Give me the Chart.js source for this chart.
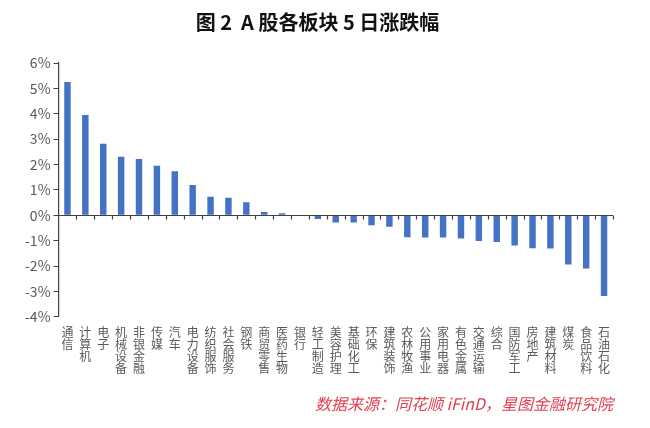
<!DOCTYPE html>
<html>
<head>
<meta charset="utf-8">
<script src="https://cdn.jsdelivr.net/npm/chart.js@4"></script>
<style>
  html, body { margin: 0; padding: 0; background: #fff; }
  #wrap { width: 650px; height: 428px; }
</style>
</head>
<body>
<div id="wrap"><canvas id="barChart"></canvas></div>
<script>
// sectors and 5-day change (%)
const sectors = ['通信', '计算机', '电子', '机械设备', '非银金融', '传媒', '汽车', '电力设备',
  '纺织服饰', '社会服务', '钢铁', '商贸零售', '医药生物', '银行', '轻工制造', '美容护理',
  '基础化工', '环保', '建筑装饰', '农林牧渔', '公用事业', '家用电器', '有色金属', '交通运输',
  '综合', '国防军工', '房地产', '建筑材料', '煤炭', '食品饮料', '石油石化'];
const changes = [5.25, 3.95, 2.82, 2.31, 2.22, 1.95, 1.73, 1.19,
  0.73, 0.69, 0.51, 0.13, 0.08, 0.02, -0.15, -0.28,
  -0.28, -0.39, -0.45, -0.87, -0.88, -0.88, -0.91, -1.01,
  -1.05, -1.19, -1.30, -1.31, -1.94, -2.10, -3.18];
const yTicks = [-4, -3, -2, -1, 0, 1, 2, 3, 4, 5, 6];

const cjk = '"Noto Sans CJK SC", "Noto Sans", sans-serif';

// zero line with small ticks between categories
const zeroAxis = {
  id: 'zeroAxis',
  afterDatasetsDraw(chart) {
    const { ctx, chartArea } = chart;
    const y = Math.round(chart.scales.y.getPixelForValue(0)) + 0.5;
    const n = sectors.length;
    const step = (chartArea.right - chartArea.left) / n;
    ctx.save();
    ctx.strokeStyle = '#404040';
    ctx.lineWidth = 1.2;
    ctx.beginPath();
    ctx.moveTo(chartArea.left, y);
    ctx.lineTo(chartArea.right, y);
    for (let i = 1; i <= n; i++) {
      const x = Math.round(chartArea.left + i * step) + 0.5;
      ctx.moveTo(x, y);
      ctx.lineTo(x, y + 4);
    }
    ctx.stroke();
    ctx.restore();
  }
};

new Chart(document.getElementById('barChart').getContext('2d'), {
  type: 'bar',
  data: {
    labels: sectors.map(s => s.split('')),
    datasets: [
      {
        data: changes,
        backgroundColor: '#4472C4',
        barPercentage: 0.36,
        categoryPercentage: 1,
      },
    ],
  },
  options: {
    responsive: true,
    maintainAspectRatio: false,
    animation: false,
    layout: { padding: { left: 22, right: 37, top: 0, bottom: 4 } },
    plugins: {
      legend: { display: false },
      tooltip: { enabled: false },
      title: {
        display: true,
        text: '图 2  A 股各板块 5 日涨跌幅',
        color: '#111',
        font: { family: cjk, size: 20, weight: 'bold' },
        padding: { top: 10, bottom: 29 },
      },
      subtitle: {
        display: true,
        position: 'bottom',
        align: 'end',
        text: '数据来源：同花顺 iFinD，星图金融研究院',
        color: '#e0404f',
        font: { family: cjk, size: 16, style: 'italic' },
        padding: { top: 18, bottom: 10 },
      },
    },
    scales: {
      x: {
        grid: { display: false },
        border: { display: false },
        ticks: {
          color: '#595959',
          font: { family: cjk, size: 12, lineHeight: 1.0 },
          maxRotation: 0,
          minRotation: 0,
          autoSkip: false,
          padding: 2,
        },
      },
      y: {
        min: -4,
        max: 6,
        afterBuildTicks(axis) {
          axis.ticks = yTicks.map(v => ({ value: v }));
        },
        grid: { drawOnChartArea: false, drawTicks: true, tickLength: 5, color: '#404040' },
        border: { display: true, color: '#404040', width: 1.2 },
        ticks: {
          color: '#595959',
          font: { family: cjk, size: 14 },
          padding: 3,
          callback: v => v + '%',
        },
      },
    },
  },
  plugins: [zeroAxis],
});
</script>
</body>
</html>
